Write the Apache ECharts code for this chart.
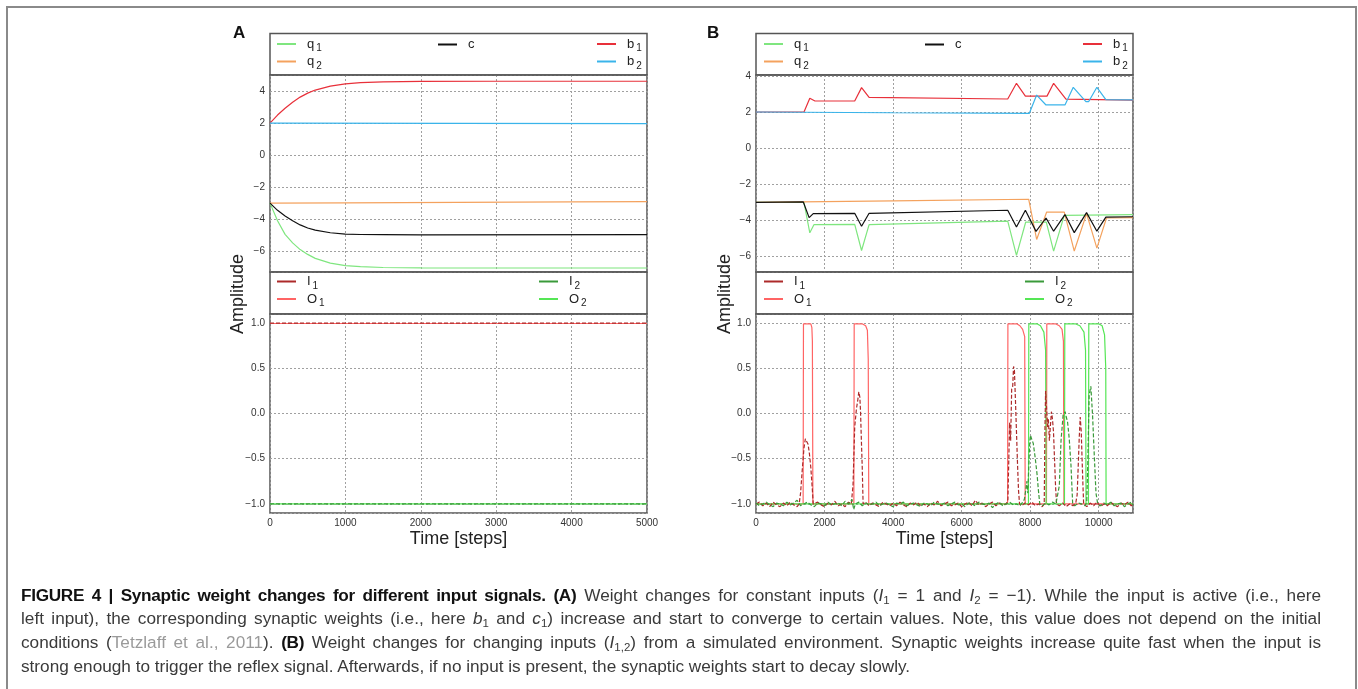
<!DOCTYPE html>
<html><head><meta charset="utf-8">
<script src="https://cdn.jsdelivr.net/npm/echarts@6/dist/echarts.min.js"></script>
<style>
html,body{margin:0;padding:0;background:#fff;}
#chart{position:absolute;left:0;top:0;width:1358px;height:689px;}
#frame{position:absolute;left:6px;top:6px;width:1347px;height:700px;border:2px solid #8a8a8a;border-bottom:none;pointer-events:none;}
#caption{position:absolute;left:21px;top:583.5px;font-family:"Liberation Sans",Arial,sans-serif;font-size:17.2px;line-height:23.7px;color:#3a3a3a;white-space:nowrap;}
#caption .j{width:1300px;text-align:justify;text-align-last:justify;white-space:normal;}
#caption b{color:#111;letter-spacing:-0.3px;}
#caption .ref{color:#9a9a9a;}
#caption sub{font-size:11.5px;vertical-align:-3px;line-height:0;}
</style></head>
<body>
<div id="chart"></div>
<div id="frame"></div>
<div id="caption">
<div class="j"><b>FIGURE 4 | Synaptic weight changes for different input signals. (A)</b> Weight changes for constant inputs (<i>I</i><sub>1</sub> = 1 and <i>I</i><sub>2</sub> = −1). While the input is active (i.e., here</div>
<div class="j">left input), the corresponding synaptic weights (i.e., here <i>b</i><sub>1</sub> and <i>c</i><sub>1</sub>) increase and start to converge to certain values. Note, this value does not depend on the initial</div>
<div class="j">conditions (<span class="ref">Tetzlaff et al., 2011</span>). <b>(B)</b> Weight changes for changing inputs (<i>I</i><sub>1,2</sub>) from a simulated environment. Synaptic weights increase quite fast when the input is</div>
<div>strong enough to trigger the reflex signal. Afterwards, if no input is present, the synaptic weights start to decay slowly.</div>
</div>
<script>
// ---------- Panel A: weights (constant inputs) ----------
const aQ1 = [[0,-3],[100,-4.1],[200,-4.95],[300,-5.48],[400,-5.9],[500,-6.2],[600,-6.45],[800,-6.75],[1000,-6.9],[1200,-6.97],[1500,-7.02],[2000,-7.04],[3000,-7.05],[5000,-7.05]];
const aQ2 = [[0,-3],[1000,-2.98],[2500,-2.95],[4000,-2.92],[5000,-2.9]];
const aC  = [[0,-3],[100,-3.45],[200,-3.8],[300,-4.1],[400,-4.36],[500,-4.55],[600,-4.69],[800,-4.85],[1000,-4.93],[1200,-4.96],[1500,-4.97],[2000,-4.98],[5000,-4.97]];
const aB1 = [[0,2],[100,2.5],[200,2.92],[300,3.3],[400,3.62],[500,3.87],[600,4.06],[800,4.31],[1000,4.45],[1200,4.52],[1500,4.57],[2000,4.6],[3000,4.61],[5000,4.61]];
const aB2 = [[0,2],[2500,1.985],[5000,1.97]];
// ---------- Panel A: signals ----------
const aI1 = [[0,1],[5000,1]];
const aO1 = [[0,0.995],[5000,0.995]];
const aI2 = [[0,-1],[5000,-1]];
const aO2 = [[0,-1],[5000,-1]];
// ---------- Panel B: weights (changing inputs) ----------
const bQ1 = [[0,-3],[1400,-3],[1570,-4.69],[1690,-4.24],[2880,-4.22],[3080,-5.67],[3300,-4.24],[7345,-4.04],[7600,-5.94],[7870,-4.09],[8470,-4.1],[8684,-5.7],[8995,-3.72],[11000,-3.68]];
const bQ2 = [[0,-3],[4000,-2.92],[7956,-2.83],[8189,-5.06],[8481,-3.54],[8995,-3.54],[9286,-5.7],[9645,-3.63],[9946,-5.54],[10227,-3.87],[11000,-3.85]];
const bC  = [[0,-3],[1380,-2.98],[1550,-3.85],[1670,-3.63],[2880,-3.61],[3080,-4.33],[3300,-3.61],[7345,-3.44],[7600,-4.37],[7860,-3.44],[8170,-4.61],[8462,-3.87],[8684,-4.6],[9015,-3.68],[9286,-4.68],[9645,-3.57],[9946,-4.6],[10208,-3.82],[11000,-3.8]];
const bB1 = [[0,2],[1400,2],[1570,2.76],[1720,2.61],[2880,2.61],[3080,3.35],[3300,2.81],[7345,2.72],[7600,3.59],[7860,2.88],[8491,2.88],[8684,3.59],[9044,2.71],[11000,2.66]];
const bB2 = [[0,2],[4000,1.96],[7976,1.93],[8189,2.94],[8462,2.39],[9015,2.39],[9257,3.37],[9626,2.57],[9704,2.57],[9946,3.37],[10208,2.69],[11000,2.67]];
// ---------- Panel B: signals ----------
const bO1 = [[0,-1],[1375,-1],[1385,0.99],[1600,0.99],[1630,0.95],[1645,0.8],[1660,-1],[2855,-1],[2865,0.99],[3110,0.99],[3200,0.97],[3250,0.92],[3275,0.6],[3290,-1],[7340,-1],[7350,0.99],[7620,0.99],[7700,0.97],[7780,0.93],[7840,0.85],[7855,-1],[8475,-1],[8485,0.99],[8750,0.99],[8850,0.97],[8930,0.93],[8970,0.8],[8985,-1],[11000,-1]];
const bO2 = [[0,-1],[7950,-1],[7960,0.99],[8210,0.99],[8300,0.97],[8400,0.9],[8450,0.7],[8465,-1],[9000,-1],[9010,0.99],[9330,0.99],[9450,0.97],[9570,0.9],[9615,0.7],[9630,-1],[9700,-1],[9710,0.99],[10010,0.99],[10100,0.97],[10170,0.87],[10205,0.5],[10215,-1],[11000,-1]];
const bI1 = [[0,-1],[100,-0.98],[200,-1.02],[300,-0.99],[400,-1.03],[500,-0.98],[600,-1.01],[700,-1.03],[800,-0.99],[900,-1.02],[1000,-0.98],[1100,-1.01],[1200,-1.03],
 [1260,-1],[1300,-0.88],[1350,-0.62],[1400,-0.38],[1440,-0.28],[1480,-0.3],[1520,-0.34],[1560,-0.45],[1600,-0.6],[1640,-0.82],[1670,-1],
 [1700,-1.02],[1800,-0.98],[1900,-1.01],[2000,-1.03],[2100,-0.99],[2200,-1.01],[2300,-0.97],[2400,-1.02],[2500,-1],[2600,-1.03],[2700,-0.98],
 [2780,-1],[2830,-0.8],[2880,-0.15],[2930,0.05],[2970,0.15],[3000,0.24],[3030,0.18],[3050,0.02],[3075,-0.3],[3100,-0.6],[3125,-1],
 [3200,-0.98],[3300,-1.02],[3400,-0.99],[3500,-1.01],[3600,-1.03],[3700,-0.98],[3800,-1],[3900,-1.02],[4000,-0.99],[4100,-1.02],[4200,-0.98],[4300,-1.01],[4400,-1.03],[4500,-0.99],[4600,-1.01],[4700,-0.98],[4800,-1.02],[4900,-1],[5000,-1.03],[5100,-0.99],[5200,-1.01],[5300,-0.97],[5400,-1.02],[5500,-1],[5600,-0.98],[5700,-1.02],[5800,-1.01],[5900,-0.99],[6000,-1.03],[6100,-1],[6200,-0.98],[6300,-1.02],[6400,-0.96],[6500,-1.01],[6600,-0.99],[6700,-1.03],[6800,-1],[6900,-0.98],[7000,-1.02],[7100,-0.99],[7200,-1.01],[7300,-1],
 [7350,-0.95],[7400,-0.1],[7430,-0.3],[7460,0.27],[7490,0.3],[7515,0.52],[7540,0.48],[7570,0.15],[7600,-0.2],[7630,-0.55],[7660,-0.85],[7690,-1],
 [7750,-1.02],[7850,-0.99],[7950,-1.01],[8050,-0.98],[8150,-1.02],[8250,-1],[8350,-1.03],
 [8410,-1],[8430,-0.2],[8450,0.25],[8480,0.05],[8510,-0.15],[8530,-0.06],[8560,-0.3],[8590,-0.28],[8620,0.02],[8650,-0.06],[8680,-0.2],[8710,-0.5],[8740,-0.8],[8770,-1],
 [8850,-1.02],[8950,-0.99],[9050,-1.03],[9150,-1],[9250,-1.02],[9330,-0.99],
 [9370,-0.9],[9400,-0.6],[9430,-0.28],[9460,-0.04],[9490,-0.2],[9510,-0.45],[9540,-0.8],[9560,-1],
 [9650,-1.03],[9750,-0.99],[9850,-1.02],[9950,-0.98],[10050,-1.03],[10150,-1],[10250,-1.02],[10350,-0.98],[10450,-1.01],[10550,-1.03],[10650,-0.99],[10750,-1.01],[10850,-0.98],[10950,-1.02],[11000,-1]];
const bI2 = [[0,-0.99],[100,-1.02],[200,-1],[300,-0.98],[400,-1.01],[500,-1.03],[600,-0.99],[700,-1],[800,-1.02],[900,-0.98],[1000,-1.01],[1100,-0.99],[1200,-0.96],[1300,-1.02],[1400,-1],[1500,-0.98],[1600,-1.01],[1700,-1.03],[1800,-0.99],[1900,-1],[2000,-1.02],[2100,-0.98],[2200,-1.01],[2300,-1],[2400,-0.99],[2500,-1.02],[2600,-0.97],[2700,-1],[2800,-0.95],[2850,-1.06],[2900,-1],[3000,-0.98],[3100,-1.02],[3200,-0.99],[3300,-1.01],[3400,-1],[3500,-0.98],[3600,-1.02],[3700,-1],[3800,-0.99],[3900,-1.01],[4000,-1.03],[4100,-0.99],[4200,-1],[4300,-0.98],[4400,-1.02],[4500,-1],[4600,-0.99],[4700,-1.01],[4800,-1.03],[4900,-0.99],[5000,-1],[5100,-1.02],[5200,-0.98],[5300,-1],[5400,-1.01],[5500,-0.99],[5600,-1.02],[5700,-1],[5800,-0.98],[5900,-1.01],[6000,-1],[6100,-1.03],[6200,-0.99],[6300,-1],[6400,-1.02],[6500,-0.98],[6600,-1],[6700,-1.01],[6800,-0.99],[6900,-1.04],[7000,-1],[7100,-0.98],[7200,-1.02],[7300,-1],[7400,-0.98],[7500,-1.01],[7600,-1],[7700,-1.02],[7780,-0.98],
 [7830,-0.95],[7870,-0.85],[7900,-0.75],[7930,-0.88],[7960,-0.57],[7990,-0.3],[8010,-0.24],[8040,-0.28],[8090,-0.33],[8150,-0.5],[8200,-0.67],[8240,-0.85],[8280,-1],
 [8350,-1.02],[8450,-0.99],[8550,-1.01],[8650,-0.98],[8750,-1],[8800,-1.02],
 [8850,-0.8],[8900,-0.3],[8960,-0.02],[9020,0.02],[9060,-0.05],[9090,-0.09],[9140,-0.28],[9190,-0.57],[9240,-1],
 [9300,-1.02],[9400,-0.99],[9500,-1],[9600,-1.02],[9650,-0.98],
 [9680,-0.57],[9720,0.2],[9770,0.3],[9820,-0.02],[9870,-0.46],[9920,-0.88],[9970,-1],
 [10050,-1.02],[10150,-0.99],[10250,-1.01],[10350,-0.98],[10450,-1.02],[10550,-1],[10650,-0.99],[10750,-1.03],[10850,-1],[10950,-0.98],[11000,-1.01]];
// ---------- axis tick settings ----------
const aTimeTicks = [0,1000,2000,3000,4000,5000];
const bTimeTicks = [0,2000,4000,6000,8000,10000];

const FONT = '"Liberation Sans", Arial, sans-serif';
const COL = {q1:'#7fe67f', q2:'#f4a25e', c:'#111111', b1:'#e8303a', b2:'#3ab4ea', I1:'#ad2a2a', O1:'#ff6464', I2:'#3a9a3a', O2:'#55e655'};
const LBL = {q1:['q','1'], q2:['q','2'], c:['c',''], b1:['b','1'], b2:['b','2'], I1:['I','1'], O1:['O','1'], I2:['I','2'], O2:['O','2']};

function minus(v){ return String(v).replace('-', '\u2212'); }
function ser(name, data, xi, yi, dashed){
  return {name, type:'line', data, xAxisIndex:xi, yAxisIndex:yi, symbol:'none', showSymbol:false, animation:false,
    lineStyle:{color:COL[name], width:1.2, type: dashed ? [4,2] : 'solid'}, itemStyle:{color:COL[name]}};
}
function leg(names, left, top){
  return {data:names.map(n => ({name:n, icon:'rect'})), left, top, orient:'vertical', itemWidth:19, itemHeight:2, itemGap:1.5, padding:0,
    selectedMode:false,
    formatter: n => '{m|'+LBL[n][0]+'}' + (LBL[n][1] ? '{s|'+LBL[n][1]+'}' : ''),
    textStyle:{fontFamily:FONT, rich:{m:{fontSize:13, color:'#222', fontFamily:FONT, padding:[0,0,0,6]}, s:{fontSize:10, color:'#222', fontFamily:FONT, padding:[9,0,0,2]}}}};
}
const gridLine = {show:true, lineStyle:{color:'#a0a0a0', type:[2,2], width:1}};
function xAx(grid, max, interval, showLabels, name){
  return {type:'value', gridIndex:grid, min:0, max, interval, axisLine:{show:false}, axisTick:{show:false}, splitLine:gridLine,
    axisLabel:{show:showLabels, fontSize:10, color:'#333', fontFamily:FONT, margin:5, showMaxLabel: max===5000, formatter: v => String(v)},
    name: name||'', nameLocation:'middle', nameGap:17, nameTextStyle:{fontSize:18, color:'#222', fontFamily:FONT}};
}
function yAx(grid, min, max, split, dec){
  return {type:'value', gridIndex:grid, min, max, splitNumber:split, axisLine:{show:false}, axisTick:{show:false}, splitLine:gridLine,
    axisLabel:{fontSize:10, color:'#333', fontFamily:FONT, margin:5, showMinLabel:false, showMaxLabel:false,
      formatter: v => minus(dec ? v.toFixed(1) : Math.round(v))}};
}
const gridStyle = {show:true, borderColor:'#555', borderWidth:1.5, backgroundColor:'#fff'};
const boxStyle = {fill:'none', stroke:'#555', lineWidth:1.5};

const option = {
  animation:false,
  backgroundColor:'#fff',
  textStyle:{fontFamily:FONT},
  grid:[
    Object.assign({left:270, top:75, width:377, height:197}, gridStyle),
    Object.assign({left:270, top:314, width:377, height:199}, gridStyle),
    Object.assign({left:756, top:75, width:377, height:197}, gridStyle),
    Object.assign({left:756, top:314, width:377, height:199}, gridStyle)
  ],
  xAxis:[
    xAx(0, aTimeTicks[aTimeTicks.length-1], aTimeTicks[1]-aTimeTicks[0], false),
    xAx(1, aTimeTicks[aTimeTicks.length-1], aTimeTicks[1]-aTimeTicks[0], true, 'Time [steps]'),
    xAx(2, 11000, bTimeTicks[1]-bTimeTicks[0], false),
    xAx(3, 11000, bTimeTicks[1]-bTimeTicks[0], true, 'Time [steps]')
  ],
  yAxis:[
    yAx(0, -7.3, 5, 6, false),
    yAx(1, -1.1, 1.1, 4, true),
    yAx(2, -6.86, 4.05, 5, false),
    yAx(3, -1.1, 1.1, 4, true)
  ],
  legend:[
    leg(['q1','q2'], 277, 37.5), leg(['c'], 438, 38), leg(['b1','b2'], 597, 37.5),
    leg(['I1','O1'], 277, 275), leg(['I2','O2'], 539, 275),
    leg(['q1','q2'], 764, 37.5), leg(['c'], 925, 38), leg(['b1','b2'], 1083, 37.5),
    leg(['I1','O1'], 764, 275), leg(['I2','O2'], 1025, 275)
  ],
  series:[
    ser('q1', aQ1, 0, 0), ser('q2', aQ2, 0, 0), ser('c', aC, 0, 0), ser('b1', aB1, 0, 0), ser('b2', aB2, 0, 0),
    ser('O1', aO1, 1, 1), ser('O2', aO2, 1, 1), ser('I1', aI1, 1, 1, true), ser('I2', aI2, 1, 1, true),
    ser('q1', bQ1, 2, 2), ser('q2', bQ2, 2, 2), ser('c', bC, 2, 2), ser('b1', bB1, 2, 2), ser('b2', bB2, 2, 2),
    ser('O1', bO1, 3, 3), ser('O2', bO2, 3, 3), ser('I1', bI1, 3, 3, true), ser('I2', bI2, 3, 3, true)
  ],
  graphic:[
    {type:'rect', silent:true, z:100, shape:{x:270, y:33.5, width:377, height:41.5}, style:boxStyle},
    {type:'rect', silent:true, z:100, shape:{x:270, y:272, width:377, height:42}, style:boxStyle},
    {type:'rect', silent:true, z:100, shape:{x:756, y:33.5, width:377, height:41.5}, style:boxStyle},
    {type:'rect', silent:true, z:100, shape:{x:756, y:272, width:377, height:42}, style:boxStyle},
    {type:'text', silent:true, x:233, y:25, style:{text:'A', fontSize:17, fontWeight:'bold', fontFamily:FONT, fill:'#111'}},
    {type:'text', silent:true, x:707, y:25, style:{text:'B', fontSize:17, fontWeight:'bold', fontFamily:FONT, fill:'#111'}},
    {type:'text', silent:true, x:238, y:294, rotation:Math.PI/2, style:{text:'Amplitude', fontSize:18, fontFamily:FONT, fill:'#222', align:'center', verticalAlign:'middle'}},
    {type:'text', silent:true, x:725, y:294, rotation:Math.PI/2, style:{text:'Amplitude', fontSize:18, fontFamily:FONT, fill:'#222', align:'center', verticalAlign:'middle'}}
  ]
};
const chart = echarts.init(document.getElementById('chart'), null, {renderer:'canvas'});
chart.setOption(option);
</script>
</body></html>
